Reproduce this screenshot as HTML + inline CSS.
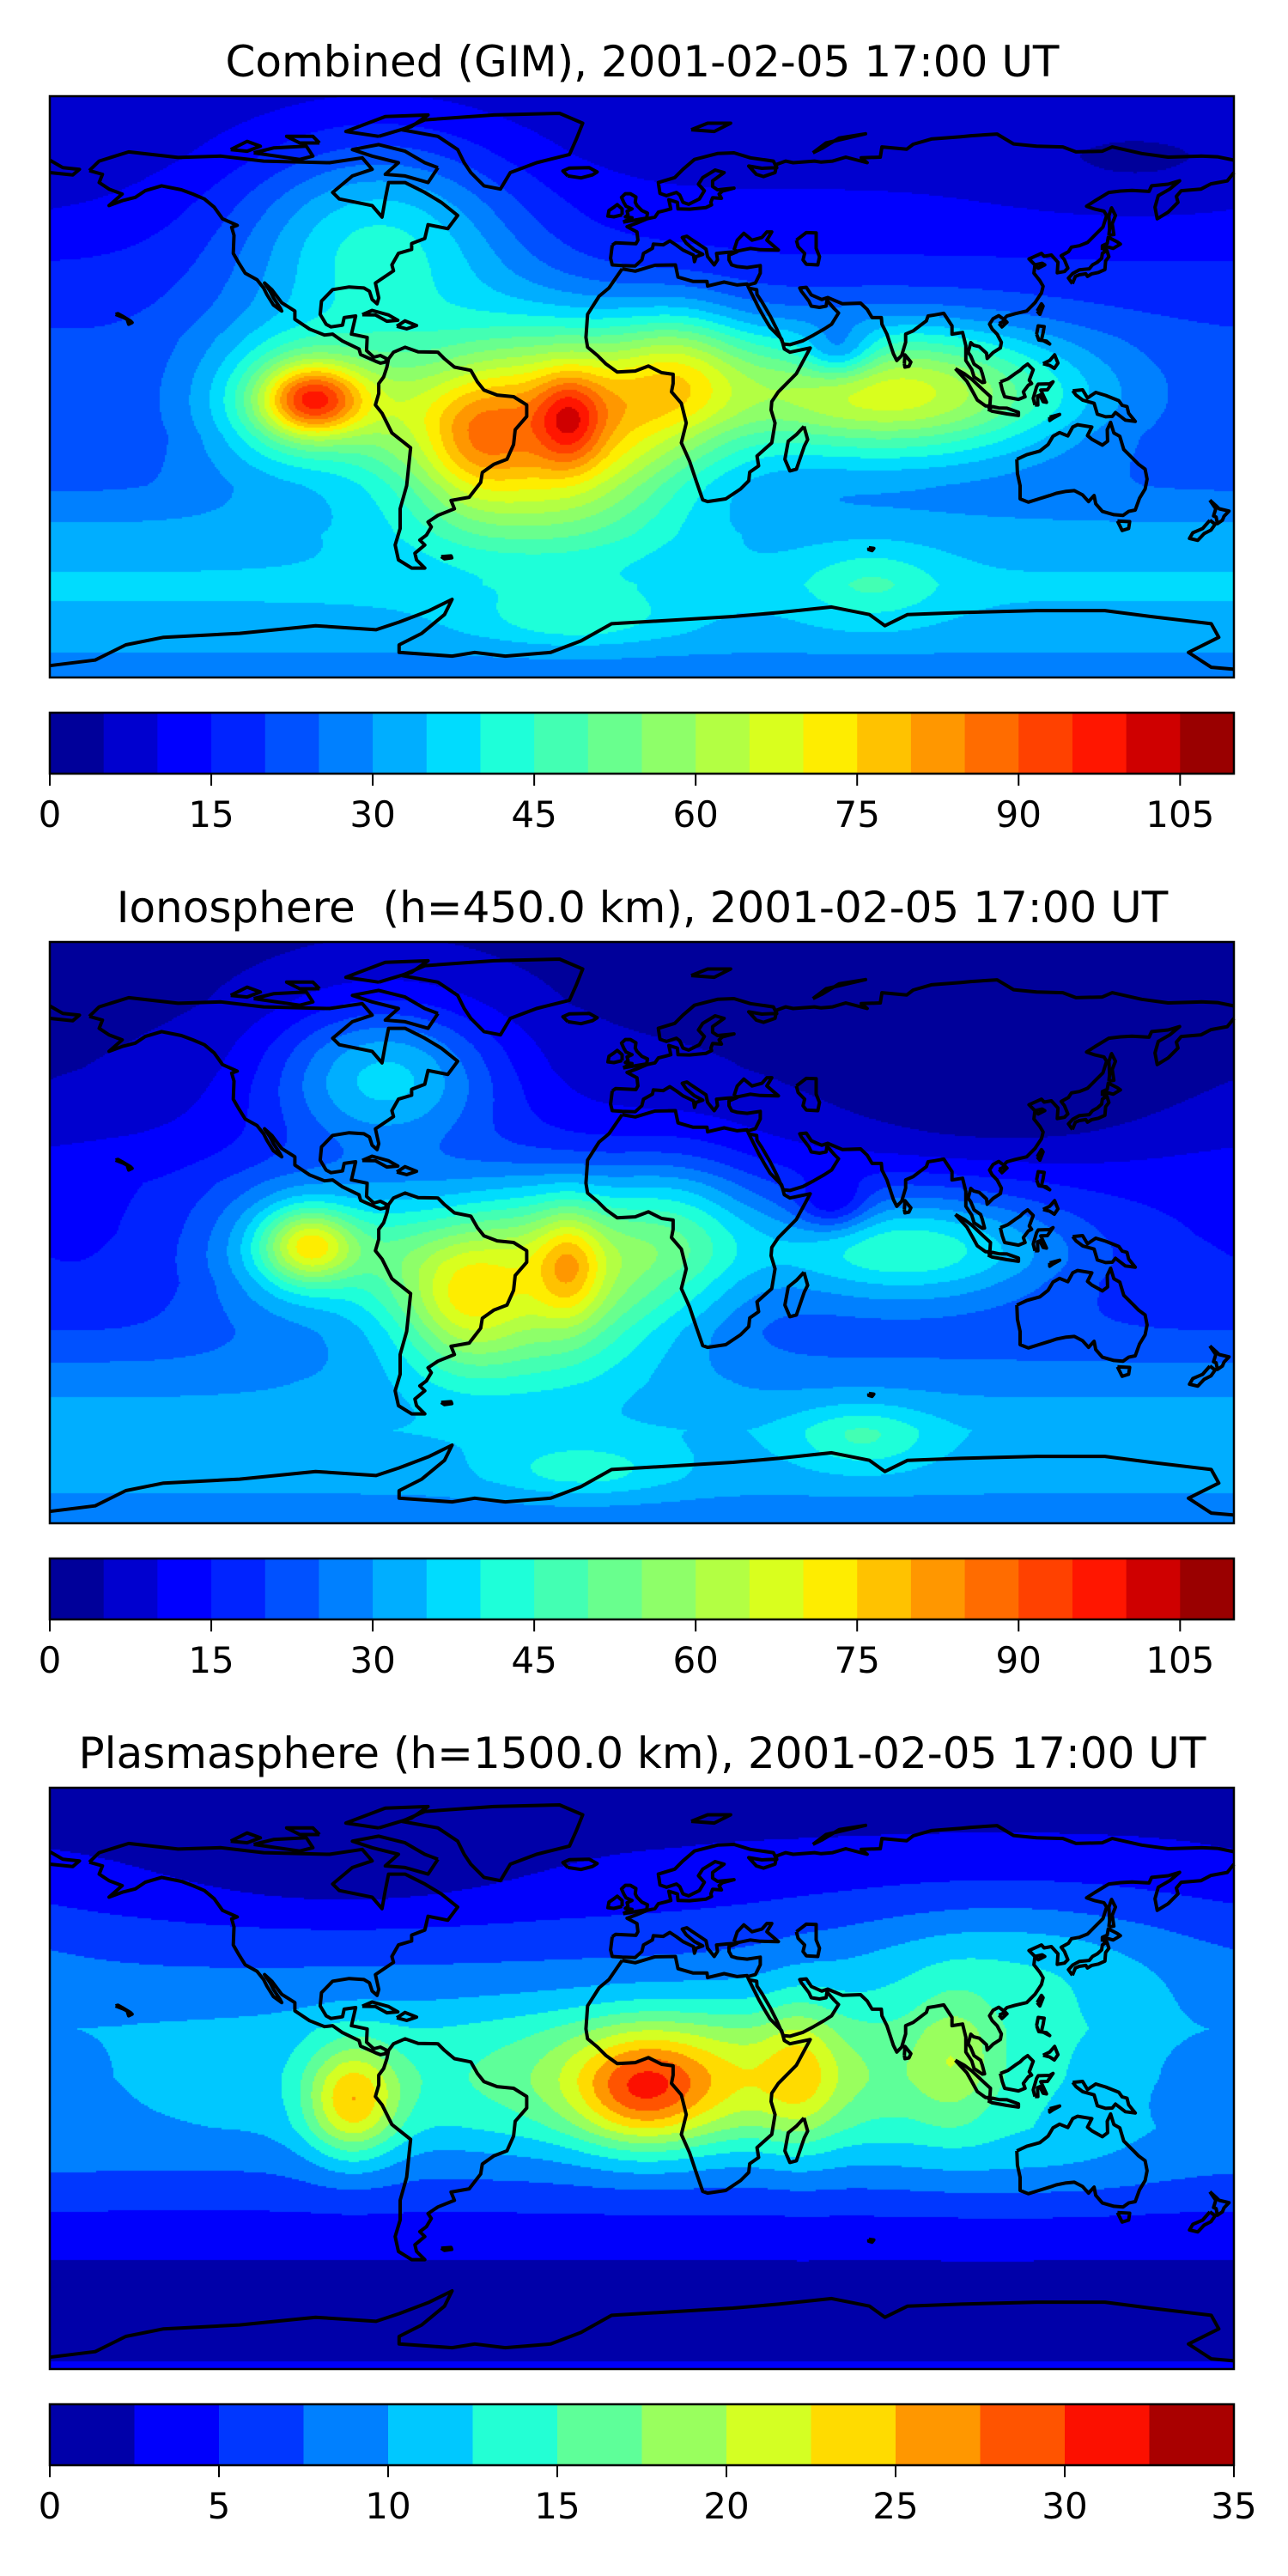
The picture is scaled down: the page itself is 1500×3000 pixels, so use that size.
<!DOCTYPE html>
<html><head><meta charset="utf-8">
<style>
html,body{margin:0;padding:0;background:#fff;}
body{width:1500px;height:3000px;position:relative;overflow:hidden;font-family:"DejaVu Sans","Liberation Sans",sans-serif;}
.title{position:absolute;left:0;width:1496px;text-align:center;font-size:50px;white-space:pre;color:#000;line-height:60px;}
canvas{position:absolute;}
svg{position:absolute;left:0;top:0;}
</style></head>
<body>
<div class="title" style="top:42px">Combined (GIM), 2001-02-05 17:00 UT</div>
<div class="title" style="top:1027px">Ionosphere  (h=450.0 km), 2001-02-05 17:00 UT</div>
<div class="title" style="top:2012px">Plasmasphere (h=1500.0 km), 2001-02-05 17:00 UT</div>
<canvas id="c0" width="1379" height="677" style="left:58px;top:112px"></canvas>
<canvas id="c1" width="1379" height="677" style="left:58px;top:1097px"></canvas>
<canvas id="c2" width="1379" height="677" style="left:58px;top:2082px"></canvas>
<svg id="ov" width="1500" height="3000"></svg>
<script>
// ---- data ----
const panelTops=[112,1097,2082];
const levelsMax=[110,110,35];
const levelsStep=[5,5,2.5];
const cbTicks0=[0,15,30,45,60,75,90,105];
const cbTicks1=[0,15,30,45,60,75,90,105];
const cbTicks2=[0,5,10,15,20,25,30,35];
const baseLats=[90,70,50,30,15,0,-15,-30,-45,-60,-75,-90];
const base0=[6,8,12,17,20,20,20,24,32,36,33,25];
const base1=[4,4,6,10,14,14,15,20,28,34,32,25];
const base2=[1.5,2.6,5,8,10,10,9.5,7,4,1.8,1.2,3];
// blobs: lon, lat, amplitude, sigmaLon, sigmaLat
const blobs0=[[-25,-10,58,30,20],[-22,-10,20,7,10],[-100,-4,45,11,8],[-105,-5,28,22,16],[-52,-15,22,12,14],[-75,-8,12,12,14],[12,5,20,14,14],[75,-2,48,40,14],[60,10,-18,8,6],[-80,45,28,30,22],[70,-60,10,15,8],[-20,-70,10,20,6],[-40,-35,10,30,12],[150,65,-4,30,10]];
const blobs1=[[-30,-10,48,30,18],[-22,-10,18,7,12],[-101,-4,34,10,8],[-105,-5,22,22,16],[-55,-20,20,12,14],[-75,-8,10,12,14],[12,0,16,16,16],[80,-5,30,35,12],[58,8,-15,8,6],[-78,48,30,25,16],[67,-62,12,15,7],[-18,-72,10,20,6],[-40,-35,10,30,12],[110,45,-8,40,20]];
const blobs2=[[0,-4,10,14,12],[-88,-7,13,10,12],[48,2,5,8,16],[95,6,5,9,14],[20,0,8,70,15],[15,0,4,30,14],[110,35,5,40,15],[-90,65,-3,40,12],[120,-25,2,40,10],[165,0,-1.5,20,20]];
const coasts=[
[-168,65.6,-165,68.5,-156,71.3,-141,69.6,-128,70,-115,68.5,-95,68,-85,69.5,-82,66,-88,64,-94,59,-92,57,-82,55,-79,51.5,-78,57,-77,62,-72,62,-66,59,-61,56,-56,52,-59,48,-65,49.2,-66,45,-70,43.5,-70,41.7,-74,40.5,-76,37,-75.5,35.2,-81,31.5,-80,27,-80.5,25.2,-82,26.5,-82.8,29,-84.5,30,-89,30.3,-94,29.5,-97.4,26,-97.8,22,-96,19,-94.5,18.2,-91,18.7,-90.5,21,-87,21.5,-88.3,16,-83.5,15,-83.7,11,-81.5,9,-79.5,9.5,-77.5,8.5,-78,7.5,-79.5,7.2,-81,7.8,-85.5,9.8,-86,11.5,-91,13.9,-94,16,-96.5,15.7,-101,17.5,-105.5,20.5,-105.5,23,-109.5,25.5,-112.5,29.5,-114.7,31.5,-113,29,-112,27,-110,24,-109.5,23,-112,24.8,-114,28,-115,30,-117,32.5,-120.6,34.5,-122.5,37.5,-124.2,40.5,-124,46,-124.7,48.4,-123,49,-127.5,51,-130,54.5,-133,57,-136.5,58.5,-140,59.8,-146,61,-151,59.5,-154,57.5,-158,56.5,-162,55,-158,58.5,-162,60,-165,62,-164,64.5,-168,65.6],
[-73,78,-66,81,-45,82.5,-25,83,-18,80,-20,75,-22,70.5,-32,68,-40,65,-43,60,-48,61,-52,65,-54,68,-56,72,-62,76,-73,78],
[-62,66.5,-65,62,-72,64,-78,64.5,-74,68,-82,70,-88,72,-80,73.5,-72,71.5,-66,68,-62,66.5],
[-118,71,-104,69,-100,70,-102,73,-112,72.5,-118,71],
[-80,76,-90,77.5,-78,82,-65,82.5,-70,79,-80,76],
[-98,74,-100,76,-108,76,-104,74,-98,74],
[-125,72,-120,71.5,-116,73,-120,74.5,-125,72],
[-85,21.9,-82,23.2,-77,21.8,-74.2,20.2,-77.5,19.9,-81,21.8,-85,21.9],
[-74.5,18.4,-72,20,-68.5,18.6,-71.5,17.6,-74.5,18.4],
[-77,8.5,-75.5,10.5,-72,12,-68,10.6,-62,10.5,-60,8.5,-57,6,-52,5,-50,1.5,-48,-1,-44,-2.5,-39,-3,-35,-5.5,-35,-9,-38.5,-13,-39,-17.5,-41,-22,-45,-23.5,-48.5,-26,-49,-29,-52.5,-33.5,-58,-34.5,-57,-37,-62,-39,-65,-41,-64,-42.5,-65.5,-45,-67.5,-46.5,-66,-48,-69,-50.5,-68.5,-52.5,-66,-55,-70,-55,-74,-52.5,-75,-48,-73.5,-43,-73.5,-37,-71.5,-30,-70.3,-18.5,-76,-14,-79,-8,-81,-5.5,-80,-2,-80,1,-78.5,3,-77.5,6,-77,8.5],
[-6,35.8,-10,30,-13,27.5,-16.5,22,-17,15,-16.5,12,-13.5,9.5,-11,7,-7.5,4.5,-2,4.8,2,6.3,6,4.3,9.5,3.8,9.5,1,9,-1.5,12,-5,13.5,-11,12,-17,14.5,-22.5,16.5,-28.5,18.5,-34.3,20,-34.8,25.5,-34,30,-31,32.5,-28.5,32.8,-25.9,35.5,-24,35,-21,39.5,-17,40.5,-11,39.3,-7,39.5,-4.5,41.5,-1.5,47,4,51.2,11.8,45,10.5,43.3,11.5,42.5,14.5,39,18,37.2,21,35.5,24,32.5,30,32,31.2,29,30.9,25,31.8,20,30.6,19.8,32,15.5,32,11,33.3,10.2,37,4,36.9,-2,35.1,-6,35.8],
[49.3,-12,50.4,-16,49.4,-18,47,-25,45,-25.5,43.5,-22,44.5,-16.5,47,-14.5,49.3,-12],
[-9,43,-9.5,39,-9,37,-6,36.8,-2,36.7,0,38.5,0.5,40.5,3.2,42,3.5,43.3,6.5,43.1,8.5,44.3,10.5,43,12.5,41.5,15.7,40,16,38,16.5,39.5,18.5,40.2,16,41.5,13.5,43.6,12.3,45.3,13.7,45.7,15,44.8,19.5,41.8,20,39.5,22,37,23,38.5,22.7,40.5,26,40.8,29,41,26.5,40,26.5,38.5,27.3,37,29,36.5,32,36.2,36,36.8,36,34.5,34.5,31.5,32.6,31],
[32.6,29.9,34.9,29.5,35,28,36.5,25.8,39,21.5,41,17.5,43,13,45,12.8,49,14,52.2,15.7,55.5,17.6,57.7,19,59.8,22.4,58.5,23.7,56.3,26.2,56,24.5,54,24.1,51.5,24.5,50.8,26,48.5,29,48,30,50,30.2,51.5,27.9,54.7,26.5,56.5,27.1,61,25.2,66.5,25.4,68.5,23.5,70,21,72.8,21,73,19,74.5,16,76.5,10,77.5,8,79,9.5,80.2,13.5,80.2,16,82.5,17,86.5,20,87,21.5,89,21.8,91.8,22.3,94.3,18.5,94.3,16,97.5,16.5,98.5,12.5,98.5,8,100.3,5.3,101,3,103.5,1.3,104.2,1.4,103.5,4,103,5.5,101,6.9,100,9.3,99.2,10.5,100,13.4,100.9,12.6,102.6,12.2,104.8,10.2,105,8.6,106.8,10.4,109,11.8,109.3,13.5,108,16,106.5,17.5,105.7,19,106.8,20.7,108.5,21.6,110,20.5,111,21.5,113.5,22.2,117,23,119.5,25.5,121.5,28.5,122,30.5,121,32.2,119.2,34.5,119.5,37,121.7,37.5,122.5,37,120.5,36,118.8,37.7,117.7,38.8,121.5,40.5,122.3,39.6,124.5,40,126.5,37.8,126.3,34.6,128.5,35,129.5,36,128.5,38.5,127.5,39.8,129.7,41,130.6,42.4,133,42.8,135.5,43.8,138.2,46.5,140.2,48.5,141.3,52,140.5,53.3,137.5,54,135.2,54.8,137.7,56.4,142,59,145.5,59.4,149,59.6,154.2,59.3,155,61,160,61.5,163.5,62.5,160.5,60,157,58,156,54.5,156.7,51,160,53,163,56,162.5,57.8,164,59.5,170,60,173,61.6,178,62.5,180,65],
[-180,65,-173,64.3,-171,66,-176,66.5,-180,68.8],
[180,68.8,175,69.8,170,70,160,69.7,152,70.8,143,72.8,140,71.5,132,71.3,128,72.8,120,73,113,73.7,108,76.7,100,76.2,97,75.9,88,75.2,82.5,73.6,80.5,72.1,73,72.8,72.5,69.7,66.7,69.5,68.5,68,62,69.7,58,68.5,54.5,68.2,52.5,68.5,46,68,43.7,68.5,41,67.5,40.5,65,37,63.8,34.8,64.5,32.5,67,36.5,66.3,41,66.5,40,68.5,33,69.5,28,71,23,70.8,16,69,12.5,66,10,63.5,5,62,5.5,58.7,7.5,58,10.5,59,11.5,58.2,12.5,56,14.2,55.4,17.5,57,19,59.5,17.2,61.5,18.5,63.5,22.3,65.8,25,65,21.5,62.5,21.5,60.8,23,59.8,28,60.3,24.5,59.4,23.5,58.5,24.2,57.2,21.5,57.4,21,56,21.2,55.2,19.5,54.4,14.5,53.9,11,54,10.8,56,8.2,56.8,8.6,55,8.8,54,7,53.5,5,53,4,51.5,1.6,51,-1.5,49.7,-4.5,48.6,-1.5,47,-1.2,44.5,-1.8,43.4,-8,43.7,-9,43],
[28,41.5,29,44.5,31,46.6,33.5,44.5,36.5,45.3,38,47,39.5,47,38,44.5,41.5,41.5,36,41.6,33,42,29,41.2,28,41.5],
[47,44.5,50,46.8,53,46.7,53,42,54,39.5,53.5,37,50,37.2,49,38.5,49.5,40.5,47.5,42.5,47,44.5],
[-5.7,50,1.5,51.2,1.7,52.7,0,53.5,-1.5,55,-2,56,-1.8,57.6,-3.5,58.6,-5,58.6,-6.2,57.5,-5.5,56,-4.8,54.8,-3,54,-4.5,53.3,-4.2,52.2,-5,51.6,-3,51.3,-5.7,50],
[-6,52.2,-6,54,-7.5,55.3,-8.5,54.5,-10,53.5,-10.3,51.8,-8.5,51.6,-6,52.2],
[-22.5,64,-24,65.5,-22,66.4,-16,66.5,-13.6,65.2,-15,64.3,-18.5,63.4,-22.5,64],
[15,78,20,80,27,80,22,77.5,15,78],
[52,71,56,74,68,76.8,60,75.5,55,72.5,52,71],
[130.9,31.3,131.8,33.5,133,34,135,34.3,135.5,33.5,136.8,34.3,138.8,34.7,140.8,35.6,141,38.2,142,39.5,141.4,41.4,140,40.5,139.8,39,138.5,37.8,137,37,136,35.8,133,35.5,131,34.4,129.7,33,130.9,31.3],
[140,41.5,141.5,42.5,143.3,42,145.5,43.3,144.5,44,141.8,45.4,141.5,43.5,140,42.8,140,41.5],
[142,46,143.5,46.2,143,49.5,144,52,142.8,54.3,142,52,142.2,48,142,46],
[79.8,7,80,9.7,81.8,7.5,81.2,6.2,80,6,79.8,7],
[120.2,23,121.5,25.2,122,24.5,121,22,120.2,23],
[108.6,19.2,110.5,20.1,111,19.6,109.5,18.2,108.6,19.2],
[95.3,5.5,98,4,100.3,2.3,103.8,-1,106,-3,105.8,-5.8,104.5,-5.8,102,-4,100.5,-1.3,98.8,1.7,95.3,5.5],
[105.2,-6.8,106.5,-6,108.5,-6.4,111,-6.5,114.5,-7.7,114.5,-8.7,111,-8.2,106.5,-7.4,105.2,-6.8],
[109,1.5,109.6,-1,110.3,-3,114.5,-3.8,116.5,-3,116,-1.5,117.5,0.5,118.5,1,117.8,2,119,5.2,117.3,6.9,116,6,115,5,113.5,4,111.3,2.4,109,1.5],
[119.5,-5.5,120.4,-5.5,120.3,-2.8,121,-2.5,122,-4.5,123,-4.7,121.3,-1,123.3,-0.9,125,1.5,124,0.9,120.5,0.8,120,0,119,-3.5,119.5,-5.5],
[120,16,120.5,18.5,122.3,18.3,122,16.4,121.5,14.3,124,13,123,13.9,120.7,14.2,120,16],
[122,7,124,8,125.5,9.7,126.5,7.2,125.4,5.6,124,6.5,122,7],
[131,-1.2,134,-0.9,135.5,-3.4,138,-1.7,141,-2.6,145,-4.2,146,-5.6,147.5,-6,148,-8,150,-10.5,147,-10.1,144,-7.8,143,-9,141,-9.1,138.5,-8.3,137.5,-5,134,-4,132,-2.5,131,-1.2],
[124,-9.2,127,-8.4,125,-9.5,124,-10.2,124,-9.2],
[114,-22,114.2,-26.3,115,-30,115,-34,117.5,-35,121,-33.9,124,-33,126,-32.3,129,-31.7,131.5,-31.5,134,-32.8,135.8,-34.8,137.5,-33,138,-35.5,140,-37.8,143.5,-38.8,146.3,-39,148,-37.8,150,-37.4,151.3,-33.8,153,-31,153.6,-28,153,-25,151,-23.5,149.5,-22,146.5,-19,145.3,-15,143.5,-14,142.5,-10.8,141.5,-13,141.6,-16.5,140,-17.7,136.8,-15.9,135.5,-14.8,136.8,-12.2,132.5,-11.5,131,-12.2,129.5,-14.9,127,-13.9,125,-15,123.5,-17.5,121,-19.5,117,-20.6,114,-22],
[144.6,-40.7,148.3,-40.9,148,-43,146,-43.6,144.6,-40.7],
[172.7,-34.4,174.5,-36,175.5,-37,178.5,-37.7,177,-39.3,176.5,-40.5,175,-41.5,174.6,-39.5,173.8,-39.2,174.5,-37,172.7,-34.4],
[172.7,-40.5,174.3,-41.7,173,-43.5,171,-44.5,169,-46.6,166.5,-46,167.5,-44.3,170.5,-43,172.7,-40.5],
[-160,22,-159.3,22.2,-158,21.5,-155.5,20,-155,19.5,-156,19,-156.5,20.5,-157.5,21,-160,22],
[-61,-51.5,-58,-51.3,-57.8,-51.9,-60,-52.2,-61,-51.5],
[69,-48.8,70.5,-49,70,-49.7,69,-49.4,69,-48.8],
[-180,-84.6,-166.2,-82.9,-156.9,-78.3,-145.4,-76,-122.3,-74.8,-99.2,-72.5,-80.8,-73.7,-73.8,-71.4,-64.6,-67.9,-57.7,-64.5,-60,-69.1,-66.9,-74.8,-73.8,-78.3,-73.8,-80.6,-57.7,-81.7,-50.8,-80.6,-41.5,-81.7,-27.7,-80.6,-18.5,-77.1,-9.2,-71.9,9.3,-70.8,27.7,-69.7,41.6,-68.5,57.7,-66.8,69.2,-69.1,73.9,-72.5,80.8,-69.1,97,-68.5,120,-67.9,140.8,-67.9,154.7,-69.7,173.1,-71.9,175.4,-76,166.2,-80.6,173.1,-85.1,180,-85.7]
];
// ---- geometry ----
const MX=58,MW=1379,MH=677,LATT=88.2,LATB=-88.2;
function xOf(lon){return MX+(lon+180)/360*MW;}
function yOf(lat,top){return top+(LATT-lat)/(LATT-LATB)*MH;}
function jet(t){
  function seg(p){for(let i=1;i<p.length;i++){if(t<=p[i][0]){const a=p[i-1],b=p[i];return a[1]+(b[1]-a[1])*(t-a[0])/(b[0]-a[0]);}}return p[p.length-1][1];}
  const r=seg([[0,0],[0.35,0],[0.66,1],[0.89,1],[1,0.5]]);
  const g=seg([[0,0],[0.125,0],[0.375,1],[0.64,1],[0.91,0],[1,0]]);
  const b=seg([[0,0.5],[0.11,1],[0.34,1],[0.65,0],[1,0]]);
  return [Math.round(r*255),Math.round(g*255),Math.round(b*255)];
}
function baseAt(arr,lat){for(let i=1;i<baseLats.length;i++){if(lat>=baseLats[i]){const f=(lat-baseLats[i])/(baseLats[i-1]-baseLats[i]);return arr[i]+(arr[i-1]-arr[i])*f;}}return arr[arr.length-1];}
function field(base,blobs,lon,lat){
  let v=baseAt(base,lat);
  for(const b of blobs){let dl=lon-b[0];if(dl>180)dl-=360;if(dl<-180)dl+=360;const dy=lat-b[1];
    v+=b[2]*Math.exp(-(dl*dl)/(2*b[3]*b[3])-(dy*dy)/(2*b[4]*b[4]));}
  return v;
}
const NS='http://www.w3.org/2000/svg';
const ov=document.getElementById('ov');
const bases=[base0,base1,base2],blobsAll=[blobs0,blobs1,blobs2],ticksAll=[cbTicks0,cbTicks1,cbTicks2];
const names=['combined','ionosphere','plasmasphere'];
for(let p=0;p<3;p++){
  const top=panelTops[p],N=Math.round(levelsMax[p]/levelsStep[p]);
  const cols=[];for(let i=0;i<N;i++)cols.push(jet((i+0.5)/N));
  const cv=document.getElementById('c'+p),ctx=cv.getContext('2d');
  const img=ctx.createImageData(MW,MH);const S=2;
  for(let py=0;py<MH;py+=S){const lat=LATT-(py+S/2)/MH*(LATT-LATB);
    for(let px=0;px<MW;px+=S){const lon=(px+S/2)/MW*360-180;
      let k=Math.floor(field(bases[p],blobsAll[p],lon,lat)/levelsStep[p]);k=Math.max(0,Math.min(N-1,k));const c=cols[k];
      for(let yy=py;yy<Math.min(py+S,MH);yy++)for(let xx=px;xx<Math.min(px+S,MW);xx++){const o=(yy*MW+xx)*4;img.data[o]=c[0];img.data[o+1]=c[1];img.data[o+2]=c[2];img.data[o+3]=255;}
    }}
  ctx.putImageData(img,0,0);
  const g=document.createElementNS(NS,'g');
  
  
  for(const c of coasts){let d='';for(let i=0;i<c.length;i+=2){d+=(i?'L':'M')+xOf(c[i]).toFixed(1)+' '+yOf(c[i+1],top).toFixed(1);}
    const path=document.createElementNS(NS,'path');path.setAttribute('d',d);path.setAttribute('fill','none');path.setAttribute('stroke','#000');path.setAttribute('stroke-width','4');path.setAttribute('stroke-linejoin','round');
    
    
    g.appendChild(path);}
  ov.appendChild(g);
  const fr=document.createElementNS(NS,'rect');fr.setAttribute('x',MX);fr.setAttribute('y',top);fr.setAttribute('width',MW);fr.setAttribute('height',MH);fr.setAttribute('fill','none');fr.setAttribute('stroke','#000');fr.setAttribute('stroke-width','2.5');
  
  
  ov.appendChild(fr);
  const cy=top+MH+41,ch=71;
  const cb=document.createElementNS(NS,'g');
  
  
  for(let i=0;i<N;i++){const r=document.createElementNS(NS,'rect');const x0=MX+i/N*MW,x1=MX+(i+1)/N*MW;
    r.setAttribute('x',x0);r.setAttribute('y',cy);r.setAttribute('width',x1-x0+0.6);r.setAttribute('height',ch);r.setAttribute('fill','rgb('+cols[i].join(',')+')');
    
    
    cb.appendChild(r);}
  const bf=document.createElementNS(NS,'rect');bf.setAttribute('x',MX);bf.setAttribute('y',cy);bf.setAttribute('width',MW);bf.setAttribute('height',ch);bf.setAttribute('fill','none');bf.setAttribute('stroke','#000');bf.setAttribute('stroke-width','2.5');
  cb.appendChild(bf);
  for(const t of ticksAll[p]){const x=MX+t/levelsMax[p]*MW;
    const l=document.createElementNS(NS,'line');l.setAttribute('x1',x);l.setAttribute('x2',x);l.setAttribute('y1',cy+ch);l.setAttribute('y2',cy+ch+14);l.setAttribute('stroke','#000');l.setAttribute('stroke-width','2');
    
    
    cb.appendChild(l);
    const tx=document.createElementNS(NS,'text');tx.setAttribute('x',x);tx.setAttribute('y',cy+ch+62);tx.setAttribute('text-anchor','middle');tx.setAttribute('font-size','42');tx.setAttribute('font-family','DejaVu Sans, Liberation Sans, sans-serif');tx.textContent=String(t);
    
    
    cb.appendChild(tx);}
  ov.appendChild(cb);
}
</script>
</body></html>
